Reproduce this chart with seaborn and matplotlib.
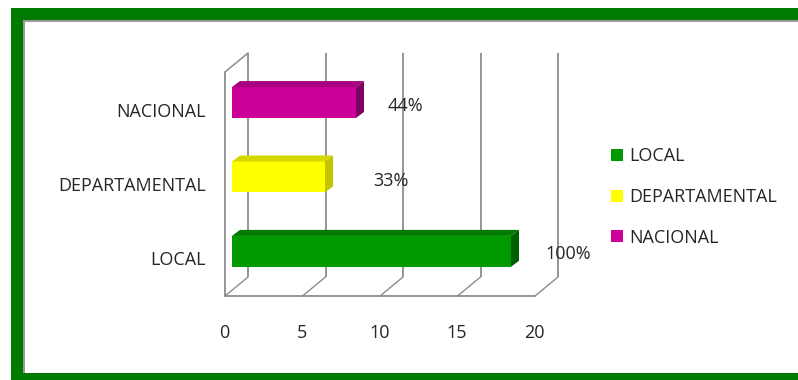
import matplotlib
matplotlib.use("Agg")
import matplotlib.pyplot as plt
from matplotlib.patches import Rectangle, Polygon, Patch
from matplotlib.transforms import Affine2D, IdentityTransform, blended_transform_factory
import pandas as pd
import seaborn as sns

categories = ["NACIONAL", "DEPARTAMENTAL", "LOCAL"]
values = [8, 6, 18]
percent_labels = ["44%", "33%", "100%"]
legend_order = ["LOCAL", "DEPARTAMENTAL", "NACIONAL"]
x_ticks = [0, 5, 10, 15, 20]

front_colors = ["#CC0099", "#FFFF00", "#009900"]
top_colors = ["#A8007F", "#D6D600", "#007A00"]
side_colors = ["#7E0060", "#C4C400", "#006000"]

W, H = 798, 380
TEXT = "#262626"
LINE = "#8C8C8C"

sns.set_theme(style="white")
plt.rcParams["font.family"] = ["Open Sans", "DejaVu Sans"]

fig = plt.figure(figsize=(W / 100, H / 100), dpi=100, facecolor="white")


def frame_rect(x0, y0, x1, y1, color):
    fig.add_artist(Rectangle((x0 / W, 1 - y1 / H), (x1 - x0) / W, (y1 - y0) / H,
                             transform=fig.transFigure, fc=color, ec="none"))


# picture frame
frame_rect(11, 8, W, 20, "#007A00")
frame_rect(11, 8, 23, 380, "#007A00")
frame_rect(11, 373, W, 380, "#007A00")
frame_rect(23, 20, W, 22, "#9A9A9A")
frame_rect(23, 20, 25, 373, "#9A9A9A")

# plot axes: left edge = value 0 on the bars
L, R, T, B = 232, 542, 72, 296
ax = fig.add_axes([L / W, 1 - B / H, (R - L) / W, (B - T) / H], facecolor="none")

df = pd.DataFrame({"cat": categories, "val": values})
sns.barplot(data=df, y="cat", x="val", hue="cat", order=categories, hue_order=categories,
            palette=front_colors, width=0.415, saturation=1, dodge=False, legend=False,
            linewidth=0, edgecolor="none", ax=ax, zorder=3)
ax.set_xlim(0, 20)
ax.set_ylim(2.6, -0.41)
ax.set_xlabel("")
ax.set_ylabel("")
sns.despine(ax=ax, left=True, bottom=True)
ax.set_xticks(x_ticks)


def shift(dx, dy):
    return Affine2D().translate(dx, dy)


# 3-D box drawn from the x scale
col = blended_transform_factory(ax.transData, ax.transAxes)
back = col + shift(16, 19)
ax.vlines(x_ticks, 0, 1, colors=LINE, lw=1.3, transform=back, zorder=1, clip_on=False)
for t in x_ticks:
    x_back = (back.transform((t, 0)))
    x_front = (col + shift(-7, 0)).transform((t, 0))
    ax.plot([x_front[0], x_back[0]], [x_front[1], x_back[1]], color=LINE, lw=1,
            transform=IdentityTransform(), clip_on=False, zorder=1)
front = col + shift(-7, 0)
ax.plot([0, 20], [0, 0], color=LINE, lw=1.3, transform=front, clip_on=False, zorder=1)
ax.plot([0, 0], [0, 1], color=LINE, lw=1.3, transform=front, clip_on=False, zorder=1)
a = front.transform((0, 1))
b = back.transform((0, 1))
ax.plot([a[0], b[0]], [a[1], b[1]], color=LINE, lw=1.1,
        transform=IdentityTransform(), clip_on=False, zorder=1)

# 3-D faces of every bar
DX, DY = 8, 6
for bar, ct, cs in zip(ax.patches, top_colors, side_colors):
    x0, y0 = ax.transData.transform((bar.get_x(), bar.get_y() + bar.get_height()))
    x1, y1 = ax.transData.transform((bar.get_x() + bar.get_width(), bar.get_y()))
    ax.add_patch(Polygon([(x0, y1), (x1, y1), (x1 + DX, y1 + DY), (x0 + DX, y1 + DY)],
                         closed=True, fc=ct, ec="none", transform=IdentityTransform(),
                         zorder=3, clip_on=False))
    ax.add_patch(Polygon([(x1, y0), (x1 + DX, y0 + DY), (x1 + DX, y1 + DY), (x1, y1)],
                         closed=True, fc=cs, ec="none", transform=IdentityTransform(),
                         zorder=3, clip_on=False))

# tick labels
FS = 13
ax.tick_params(axis="x", length=0, pad=20, labelsize=FS, labelcolor=TEXT)
ax.tick_params(axis="y", length=0, pad=19, labelsize=FS, labelcolor=TEXT)
for lab in ax.get_xticklabels():
    lab.set_transform(lab.get_transform() + shift(-7.5, 0))
for lab in ax.get_yticklabels():
    lab.set_transform(lab.get_transform() + shift(0, -7))

# value labels
label_offsets = [(49, -3), (66, -4), (57, -3)]
for i, (v, txt, off) in enumerate(zip(values, percent_labels, label_offsets)):
    ax.annotate(txt, (v, i), xytext=(off[0] * 0.72, off[1] * 0.72), textcoords="offset points",
                ha="center", va="center", fontsize=FS, color=TEXT, zorder=5, annotation_clip=False)

# legend
color_of = dict(zip(categories, front_colors))
handles = [Patch(fc=color_of[c], ec="none", label=c) for c in legend_order]
fig.legend(handles=handles, loc="center left", bbox_to_anchor=(611 / W, 1 - 197 / H),
           frameon=False, fontsize=FS, labelcolor=TEXT, handlelength=0.66, handleheight=0.66,
           handletextpad=0.33, labelspacing=1.25, borderpad=0, borderaxespad=0)

fig.savefig("out.png", dpi=100, facecolor="white")
